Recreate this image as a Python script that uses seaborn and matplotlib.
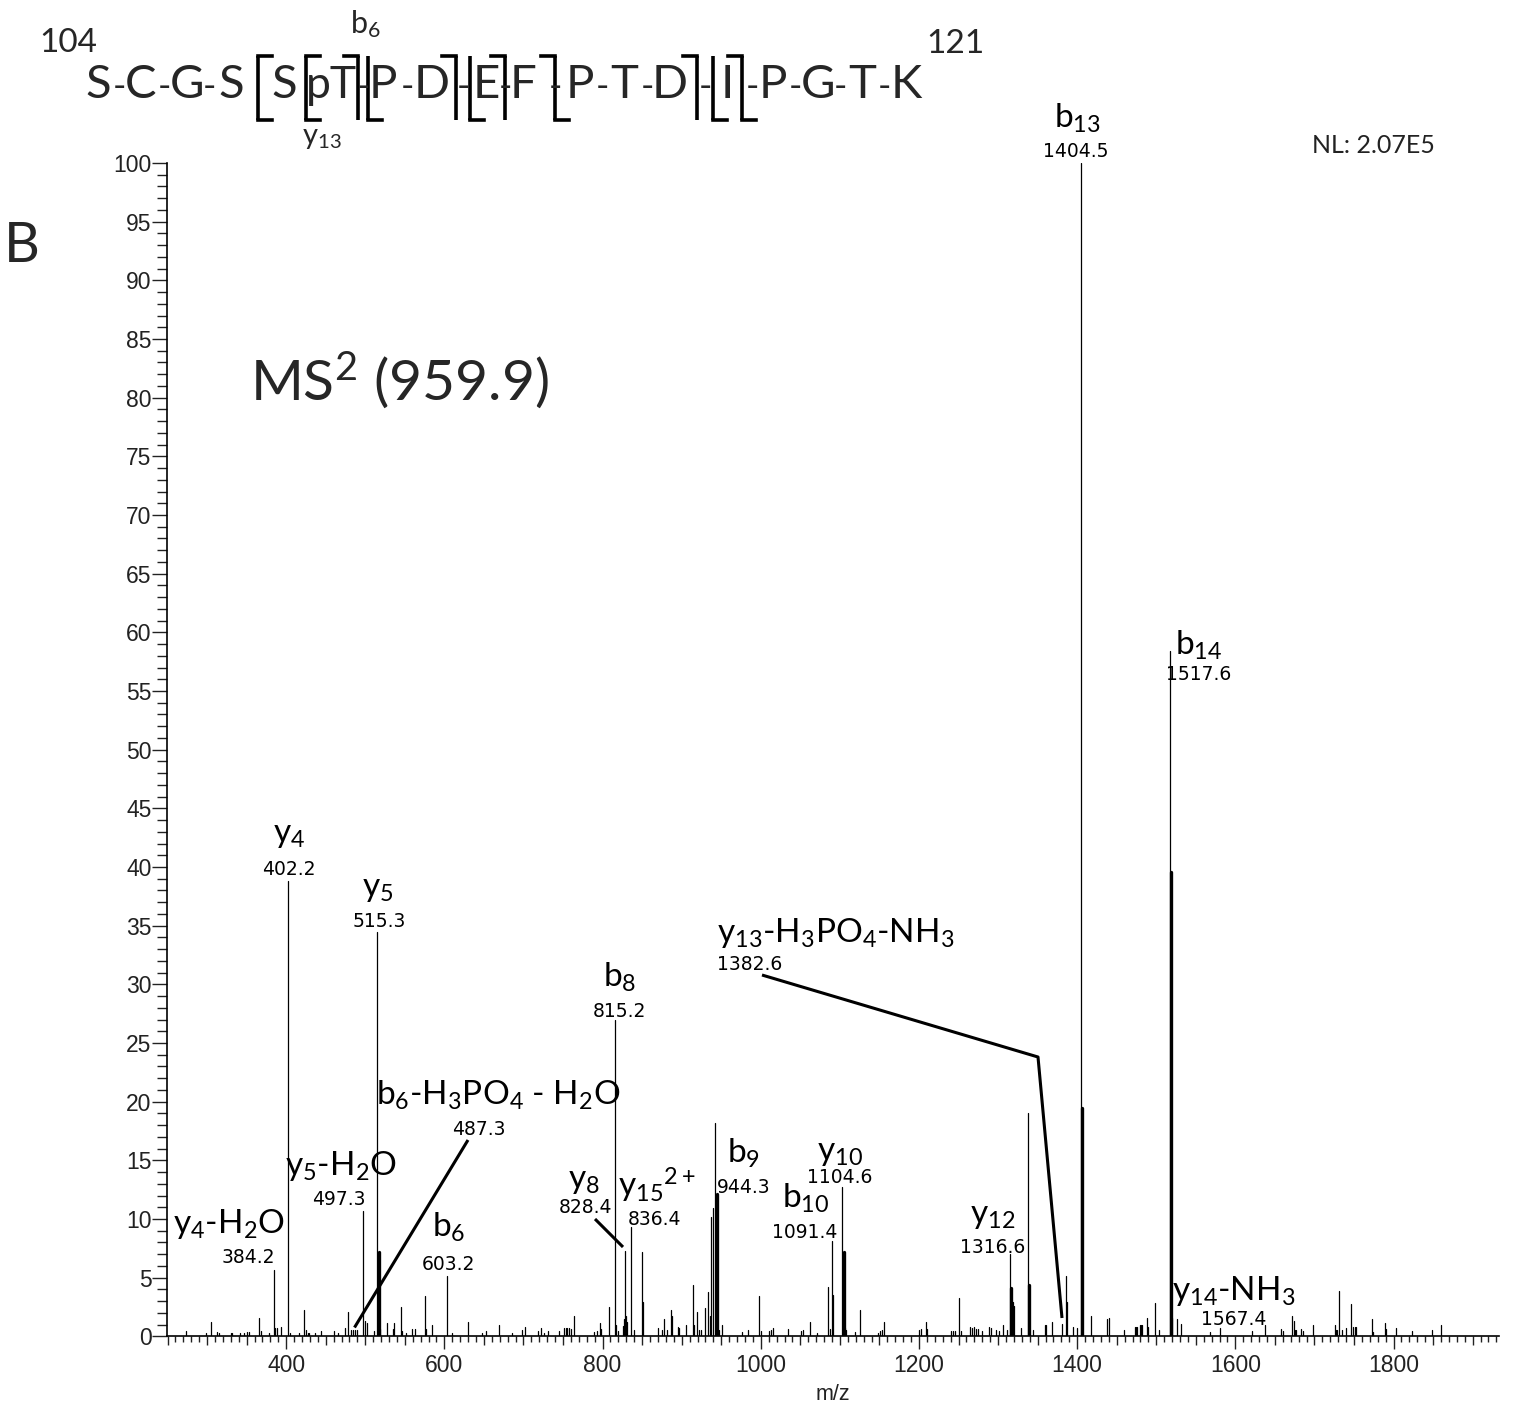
import numpy as np
import pandas as pd
import matplotlib
matplotlib.use("Agg")
import matplotlib.pyplot as plt
import seaborn as sns
from matplotlib.ticker import MultipleLocator, FuncFormatter

# ---------------- data ----------------
mz = [273, 298, 305, 313, 315, 330, 332, 341.6, 347, 351, 353, 366, 368, 378.6,
      384.2, 386, 388, 393, 402.2, 405, 416, 423, 425, 427, 429, 436, 444, 461,
      465, 474, 478, 482, 484.6, 487.3, 489, 497.3, 499, 502.6, 510.5, 515.3,
      519, 527, 535, 536.7, 544.7, 546.7, 552, 559.5, 562.8, 575, 577, 584.3,
      603.2, 609, 630, 647, 652, 669.4, 685, 697.7, 702, 718.7, 722, 726, 730.6,
      745, 751.6, 753.5, 755.5, 757.5, 760, 764, 789.5, 793, 796.7, 798.5, 808.5,
      815.2, 817, 820, 825.4, 827, 828.4, 829.5, 831, 836.4, 840, 850, 851.6,
      869.6, 874.7, 878, 882, 886, 888, 895, 897, 905.4, 914.3, 916, 919.8,
      921.5, 925, 929.8, 933, 935.8, 937.4, 939.2, 942.5, 947.6, 950.6, 975.9,
      983.5, 998, 1000, 1010.8, 1013, 1015, 1034.8, 1050.8, 1053, 1062.6, 1071,
      1085.3, 1087, 1089.6, 1091.4, 1103, 1106.5, 1108, 1119.5, 1125.4, 1148,
      1150.7, 1153, 1155.8, 1200.4, 1203, 1209, 1210.5, 1241, 1243.5, 1246,
      1250, 1253, 1265, 1267.5, 1270, 1272.5, 1275, 1280, 1288.5, 1290.6, 1298,
      1301.5, 1305.8, 1311, 1315, 1318.4, 1320.5, 1328.6, 1337.8, 1343.6, 1359,
      1360.5, 1368, 1380.8, 1385.5, 1387, 1394.3, 1400, 1404.5, 1417, 1438,
      1440, 1459, 1473, 1474.5, 1476, 1479, 1480.5, 1482, 1487.8, 1489.5,
      1498.8, 1503, 1517.6, 1520.5, 1525.8, 1531.6, 1568, 1580.5, 1620.6,
      1637.8, 1658, 1660, 1671.6, 1674, 1675.5, 1677, 1683, 1685, 1697.7,
      1725.5, 1727, 1729, 1730.6, 1734.8, 1739.8, 1745.8, 1749, 1751, 1753,
      1772.3, 1774.4, 1789, 1791, 1803, 1823, 1848.5, 1859.6]
intensity = [0.45, 0.3, 1.2, 0.4, 0.3, 0.3, 0.3, 0.3, 0.3, 0.4, 0.35, 1.6, 0.45, 0.3,
             5.65, 0.75, 0.75, 0.8, 38.8, 0.3, 0.3, 2.2, 0.5, 0.3, 0.3, 0.3, 0.45, 0.45,
             0.3, 0.7, 2.1, 0.55, 0.55, 0.55, 0.55, 10.7, 1.3, 1.1, 0.45, 34.5,
             0.6, 1.1, 0.6, 1.1, 2.5, 0.45, 0.3, 0.6, 0.6, 3.4, 0.6, 0.95,
             5.15, 0.3, 1.2, 0.3, 0.45, 0.95, 0.3, 0.55, 0.8, 0.45, 0.7, 0.3, 0.45,
             0.45, 0.7, 0.75, 0.75, 0.7, 0.6, 1.7, 0.35, 0.45, 1.1, 0.6, 2.5,
             27.0, 1.0, 0.45, 0.85, 1.5, 7.3, 1.7, 1.25, 9.3, 0.57, 7.2, 2.9,
             0.7, 0.5, 1.5, 0.57, 2.2, 1.75, 0.8, 0.7, 1.0, 4.4, 1.0, 2.1,
             0.57, 0.5, 2.4, 3.8, 1.7, 10.2, 10.9, 18.2, 0.57, 1.0, 0.34,
             0.5, 3.4, 0.45, 0.45, 0.57, 0.7, 0.6, 0.45, 0.57, 1.25, 0.3,
             4.2, 0.6, 8.1, 3.5, 12.7, 0.7, 0.57, 0.34, 2.2, 0.3,
             0.45, 0.57, 1.25, 0.5, 0.6, 1.25, 0.6, 0.45, 0.45, 0.45,
             3.3, 0.45, 0.8, 0.7, 0.8, 0.6, 0.6, 0.45, 0.8, 0.7, 0.57,
             0.45, 1.0, 0.57, 7.0, 2.9, 2.6, 0.7, 19.0, 0.57, 1.0,
             1.0, 1.2, 1.05, 5.1, 2.9, 0.8, 0.7, 100.0, 1.7, 1.45,
             1.56, 0.57, 0.8, 0.8, 0.8, 0.94, 0.94, 0.94, 1.56, 0.8,
             2.84, 0.57, 58.4, 1.56, 1.45, 1.05, 0.37, 0.7, 0.43,
             0.94, 0.65, 0.43, 1.7, 1.28, 0.57, 0.57, 0.65, 0.43, 0.94,
             0.94, 0.57, 0.57, 3.86, 0.57, 0.7, 2.73, 0.8, 0.8, 0.8,
             1.45, 0.37, 1.16, 0.65, 0.7, 0.43, 0.57, 0.94]
# peaks that appear as thicker (unresolved) sticks
thick_mz = [517.0, 944.3, 1104.6, 1316.6, 1339.2, 1406.0, 1519.0]
thick_int = [7.2, 12.1, 7.2, 4.1, 4.4, 19.5, 39.6]

# annotations: ion name, m/z text
ion_names = [r"y$_{4}$-H$_{2}$O", r"y$_{4}$", r"y$_{5}$", r"y$_{5}$-H$_{2}$O",
             r"b$_{6}$-H$_{3}$PO$_{4}$ - H$_{2}$O", r"b$_{6}$", r"b$_{8}$", r"y$_{8}$",
             r"y$_{15}$$^{2+}$", r"b$_{9}$", r"b$_{10}$", r"y$_{10}$", r"y$_{12}$",
             r"y$_{13}$-H$_{3}$PO$_{4}$-NH$_{3}$", r"b$_{13}$", r"b$_{14}$",
             r"y$_{14}$-NH$_{3}$"]
ion_mz_text = ["384.2", "402.2", "515.3", "497.3", "487.3", "603.2", "815.2", "828.4",
               "836.4", "944.3", "1091.4", "1104.6", "1316.6", "1382.6", "1404.5",
               "1517.6", "1567.4"]
residues = ["S", "C", "G", "S", "S", "pT", "P", "D", "E", "F", "P", "T", "D", "I",
            "P", "G", "T", "K"]

# ---------------- layout (pixel positions in the 1517x1410 canvas) ----------------
W, H = 1517, 1410
AX_L, AX_R, AX_T, AX_B = 167, 1499, 163, 1336.3
XMIN, XMAX = 249.3, 1933.3

def to_data(px, py):
    x = XMIN + (px - AX_L) / (AX_R - AX_L) * (XMAX - XMIN)
    y = (AX_B - py) / (AX_B - AX_T) * 100.0
    return x, y

# (ion x px, ion baseline px, ha, number x px, number baseline px, number ha)
label_layout = [
    (229, 1233, "center", 248, 1263, "center"),
    (289, 842, "center", 289, 875, "center"),
    (378, 896, "center", 379, 927, "center"),
    (341, 1175, "center", 339, 1205, "center"),
    (498, 1105, "center", 479, 1135, "center"),
    (449, 1237, "center", 448, 1270, "center"),
    (620, 987, "center", 619.5, 1017, "center"),
    (584, 1188, "center", 585, 1213, "center"),
    (618, 1197, "left", 654, 1225, "center"),
    (744, 1163, "center", 744, 1193, "center"),
    (806, 1208, "center", 805, 1238, "center"),
    (840, 1160, "center", 840, 1183, "center"),
    (993, 1223, "center", 993, 1253, "center"),
    (717, 942, "left", 717, 970, "left"),
    (1077, 128, "center", 1076, 157, "center"),
    (1199, 655, "center", 1199, 680, "center"),
    (1172, 1300, "left", 1234, 1325, "center"),
]
leaders = [
    [(468, 1140), (354.5, 1327.5)],
    [(595, 1219), (623, 1247)],
    [(762, 975), (1038, 1057), (1062, 1318)],
]

# ---------------- style ----------------
sns.set_style("ticks")
plt.rcParams["font.family"] = ["Lato", "DejaVu Sans"]
plt.rcParams["mathtext.default"] = "regular"

fig = plt.figure(figsize=(W / 100, H / 100), dpi=100)
ax = fig.add_axes([AX_L / W, 1 - AX_B / H, (AX_R - AX_L) / W, (AX_B - AX_T) / H])

# ---------------- spectrum sticks via seaborn ----------------
def stick_frame(xs, ys):
    n = len(xs)
    return pd.DataFrame({
        "mz": np.repeat(np.asarray(xs, float), 2),
        "rel": np.column_stack([np.zeros(n), np.asarray(ys, float)]).ravel(),
        "pid": np.repeat(np.arange(n), 2),
    })

sns.lineplot(data=stick_frame(mz, intensity), x="mz", y="rel", units="pid",
             estimator=None, sort=False, color="black", linewidth=0.9,
             ax=ax, legend=False)
sns.lineplot(data=stick_frame(thick_mz, thick_int), x="mz", y="rel", units="pid",
             estimator=None, sort=False, color="black", linewidth=2.4,
             ax=ax, legend=False)

ax.set_xlim(XMIN, XMAX)
ax.set_ylim(0, 100)
sns.despine(ax=ax)
for s in ("left", "bottom"):
    ax.spines[s].set_linewidth(1.2)
    ax.spines[s].set_color("black")

ax.yaxis.set_major_locator(MultipleLocator(5))
ax.yaxis.set_minor_locator(MultipleLocator(1))
ax.xaxis.set_major_locator(MultipleLocator(50))
ax.xaxis.set_minor_locator(MultipleLocator(10))
ax.xaxis.set_major_formatter(FuncFormatter(lambda v, p: f"{int(round(v))}" if round(v) % 200 == 0 else ""))
ax.tick_params(axis="y", which="major", length=10.5, width=1.0, pad=0.5, colors="#222222")
ax.tick_params(axis="y", which="minor", length=7, width=1.0, color="#222222")
ax.tick_params(axis="x", which="major", length=9, width=1.0, pad=4, colors="#222222")
ax.tick_params(axis="x", which="minor", length=4.5, width=1.0, color="#222222")
for lab in ax.get_xticklabels() + ax.get_yticklabels():
    lab.set_fontfamily("Liberation Sans")
    lab.set_fontsize(16.5)
for t in ax.xaxis.get_major_ticks():
    if round(t.get_loc()) % 200 != 0:
        t.tick1line.set_markersize(6.5)
ax.set_xlabel("m/z", fontfamily="Liberation Sans", fontsize=15.5, labelpad=5, color="#222222")
ax.set_ylabel("")

# ---------------- peak annotations ----------------
ION_FS = 24
NUM_FS = 13.5
for name, num, (ix, iy, ha, nx, ny, nha) in zip(ion_names, ion_mz_text, label_layout):
    x, y = to_data(ix, iy)
    ax.text(x, y, name, ha=ha, va="baseline", fontsize=ION_FS, family="Lato",
            color="black", clip_on=False)
    x2, y2 = to_data(nx, ny)
    ax.text(x2, y2, num, ha=nha, va="baseline", fontsize=NUM_FS,
            family="DejaVu Sans", color="black", clip_on=False)
for pts in leaders:
    d = [to_data(px, py) for px, py in pts]
    ax.plot([p[0] for p in d], [p[1] for p in d], color="black", lw=2.2,
            clip_on=False, solid_capstyle="butt")

ax.text(*to_data(250, 400), r"MS$^{2}$ (959.9)", fontsize=41, family="Lato",
        ha="left", va="baseline")
ax.text(*to_data(1312, 153), "NL: 2.07E5", fontsize=18, family="Lato", ha="left",
        va="baseline", color="#222222", clip_on=False)

# ---------------- header (peptide sequence) on a pixel overlay ----------------
ov = fig.add_axes([0, 0, 1, 1], zorder=5)
ov.set_xlim(0, W)
ov.set_ylim(H, 0)
ov.axis("off")
ov.patch.set_alpha(0)

res_x = [98, 141, 187, 231, 284, 331, 383, 432, 486, 523, 580, 624, 670, 727, 773, 818, 862, 906]
# hyphen positions between consecutive residues (None = bracket line only)
hyph_x = [119.5, 164, 209, None, None, 363, 407.5, 463, 505, 555, 602, 647, 705, 752, 795.5, 840, 884]
SEQ_BASE = 98
SEQ_FS = 34
for r, x in zip(residues, res_x):
    ov.text(x, SEQ_BASE, r, fontsize=(32 if len(r) > 1 else SEQ_FS), family="Lato",
            ha="center", va="baseline")
for hx in hyph_x:
    if hx is not None:
        ov.text(hx, SEQ_BASE, "-", fontsize=26, family="Lato", ha="center", va="baseline")

BT, BB, HK = 56, 120, 14
def bracket(x, top_left=False, bottom_right=False, top_right=False):
    ov.plot([x, x], [BT, BB], color="black", lw=2.6, solid_capstyle="butt")
    if top_left:
        ov.plot([x - HK, x], [BT, BT], color="black", lw=2.6, solid_capstyle="projecting")
    if top_right:
        ov.plot([x, x + HK], [BT, BT], color="black", lw=2.6, solid_capstyle="projecting")
    if bottom_right:
        ov.plot([x, x + HK], [BB, BB], color="black", lw=2.6, solid_capstyle="projecting")

bracket(258, bottom_right=True, top_right=True)
bracket(306, bottom_right=True, top_right=True)
bracket(358, top_left=True)
bracket(368, bottom_right=True)
bracket(456, top_left=True)
bracket(470, bottom_right=True)
bracket(505, top_left=True)
bracket(555, top_left=True, bottom_right=True)
bracket(697, top_left=True)
bracket(713, bottom_right=True)
bracket(742, top_left=True, bottom_right=True)

ov.text(68, 52, "104", fontsize=24, family="Lato", ha="center", va="baseline")
ov.text(955, 53, "121", fontsize=24, family="Lato", ha="center", va="baseline")
ov.text(365, 33, r"b$_{6}$", fontsize=22, family="Lato", ha="center", va="baseline")
ov.text(322, 144, r"y$_{13}$", fontsize=21, family="Lato", ha="center", va="baseline")
ov.text(4, 262, "B", fontsize=40, family="Lato", ha="left", va="baseline")

fig.savefig("out.png", dpi=100)
